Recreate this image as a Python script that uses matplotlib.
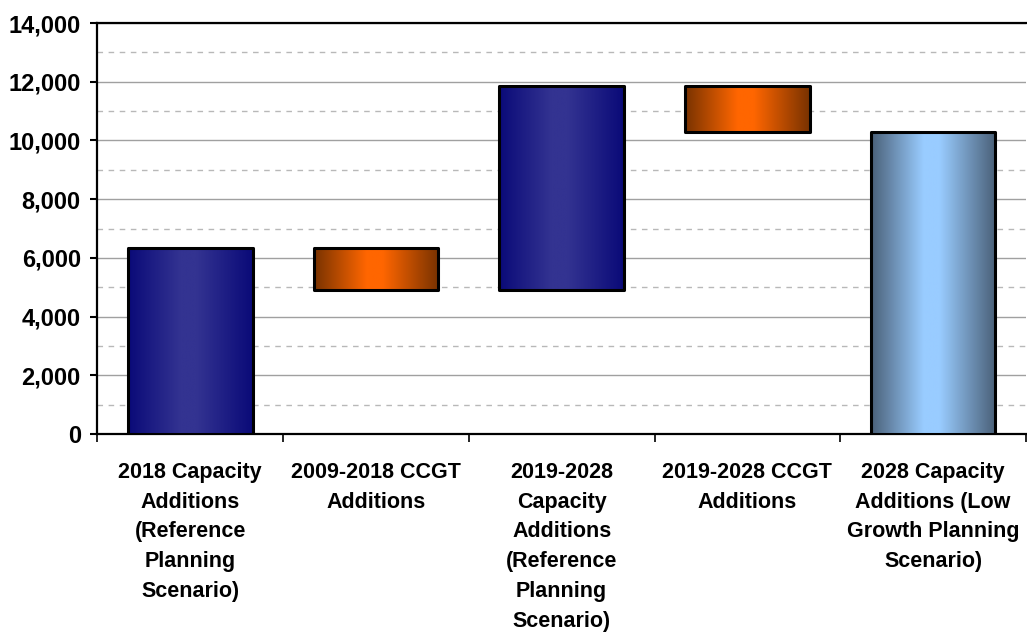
import numpy as np
import matplotlib

matplotlib.use("Agg")
import matplotlib.pyplot as plt
from matplotlib.colors import LinearSegmentedColormap
from matplotlib.ticker import FuncFormatter, MultipleLocator, FixedLocator

plt.rcParams["font.family"] = ["Liberation Sans", "DejaVu Sans"]

CATEGORIES = [
    "2018 Capacity\nAdditions\n(Reference\nPlanning\nScenario)",
    "2009-2018 CCGT\nAdditions",
    "2019-2028\nCapacity\nAdditions\n(Reference\nPlanning\nScenario)",
    "2019-2028 CCGT\nAdditions",
    "2028 Capacity\nAdditions (Low\nGrowth Planning\nScenario)",
]
BAR_BOTTOMS = [0, 4900, 4900, 10300, 0]
BAR_TOPS = [6350, 6350, 11850, 11850, 10300]
BAR_KINDS = ["total", "ccgt", "total", "ccgt", "low"]

# edge / centre colours for the horizontal gradient fill
GRADIENTS = {
    "total": ["#0a0a78", "#333391", "#333391", "#0a0a78"],
    "ccgt": ["#783200", "#ff6600", "#ff6600", "#783200"],
    "low": ["#4a6078", "#99ccff", "#99ccff", "#4a6078"],
}


def main():
    fig = plt.figure(figsize=(10.27, 6.40), dpi=100)
    ax = fig.add_axes([0.0949, 0.3219, 0.904, 0.642])

    x = np.arange(len(CATEGORIES))
    heights = np.array(BAR_TOPS) - np.array(BAR_BOTTOMS)
    bars = ax.bar(x, heights, bottom=BAR_BOTTOMS, width=0.67, facecolor="none",
                  edgecolor="black", linewidth=2.2, zorder=4, joinstyle="round")

    grad = np.linspace(0, 1, 256).reshape(1, -1)
    for bar, kind in zip(bars, BAR_KINDS):
        cmap = LinearSegmentedColormap.from_list(
            kind, list(zip([0.0, 0.42, 0.55, 1.0], GRADIENTS[kind])))
        x0, y0 = bar.get_x(), bar.get_y()
        ax.imshow(grad, cmap=cmap, aspect="auto", zorder=3,
                  extent=(x0, x0 + bar.get_width(), y0, y0 + bar.get_height()))

    ax.set_xlim(-0.5, len(CATEGORIES) - 0.5)
    ax.set_ylim(0, 14000)

    ax.yaxis.set_major_locator(MultipleLocator(2000))
    ax.yaxis.set_minor_locator(FixedLocator(np.arange(1000, 14000, 2000)))
    ax.yaxis.set_major_formatter(FuncFormatter(lambda v, p: f"{v:,.0f}"))
    ax.tick_params(axis="y", which="major", length=5, width=1.5, pad=7,
                   labelsize=17)
    ax.tick_params(axis="y", which="minor", length=0)
    for label in ax.get_yticklabels():
        label.set_fontweight("bold")

    ax.set_xticks(x)
    ax.set_xticklabels(CATEGORIES, fontsize=15.5, fontweight="bold",
                       linespacing=1.55, va="top")
    ax.set_xticks(np.arange(-0.5, len(CATEGORIES), 1.0), minor=True)
    ax.tick_params(axis="x", which="major", length=0, pad=20)
    ax.tick_params(axis="x", which="minor", length=6, width=1.2)

    ax.grid(axis="y", which="major", color="#a0a0a0", linewidth=1.0, zorder=1)
    ax.grid(axis="y", which="minor", color="#b8b8b8", linewidth=1.0,
            linestyle=(0, (4, 4)), zorder=1)
    ax.set_axisbelow(True)

    ax.spines["right"].set_visible(False)
    for side in ("left", "bottom", "top"):
        ax.spines[side].set_linewidth(1.6)
        ax.spines[side].set_color("black")

    fig.savefig("out.png", dpi=100)
    plt.close(fig)


if __name__ == "__main__":
    main()
